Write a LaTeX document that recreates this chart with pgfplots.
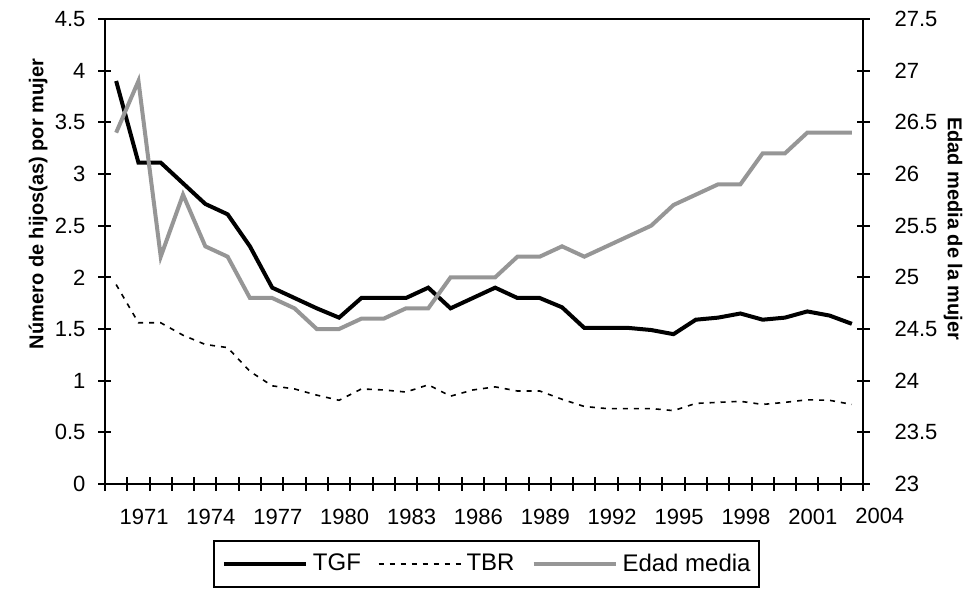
\documentclass[border=0pt]{standalone}
\usepackage{pgfplots}
\usepackage{pgfplotstable}
\pgfplotsset{compat=1.18}
\usepackage{fontspec}
\setmainfont{Liberation Sans}

\pgfplotstableread{
year tgf tbr edad
1970 3.90 1.93 26.40
1971 3.11 1.56 26.90
1972 3.11 1.56 25.20
1973 2.91 1.44 25.80
1974 2.71 1.35 25.30
1975 2.61 1.32 25.20
1976 2.30 1.09 24.80
1977 1.90 0.95 24.80
1978 1.80 0.92 24.70
1979 1.70 0.86 24.50
1980 1.61 0.81 24.50
1981 1.80 0.92 24.60
1982 1.80 0.91 24.60
1983 1.80 0.89 24.70
1984 1.90 0.96 24.70
1985 1.70 0.85 25.00
1986 1.80 0.91 25.00
1987 1.90 0.94 25.00
1988 1.80 0.90 25.20
1989 1.80 0.90 25.20
1990 1.71 0.82 25.30
1991 1.51 0.75 25.20
1992 1.51 0.73 25.30
1993 1.51 0.73 25.40
1994 1.49 0.73 25.50
1995 1.45 0.71 25.70
1996 1.59 0.78 25.80
1997 1.61 0.79 25.90
1998 1.65 0.80 25.90
1999 1.59 0.77 26.20
2000 1.61 0.79 26.20
2001 1.67 0.815 26.40
2002 1.63 0.81 26.40
2003 1.55 0.77 26.40
}\datatable

\definecolor{edadgray}{RGB}{150,150,150}

\pgfplotsset{
  common/.style={
    scale only axis, width=379pt, height=232.5pt,
    xmin=1969.5, xmax=2003.5,
    axis line style={line width=1pt},
    tick align=center,
    major tick length=6.5pt, minor tick length=6.5pt,
    tick style={line width=1pt, black},
    /pgf/number format/assume math mode=true,
    /pgf/number format/1000 sep={},
    tick label style={font=\fontsize{11}{13}\selectfont},
    clip=false,
  },
}
\tikzset{yearlabel/.style={font=\fontsize{11}{13}\selectfont, anchor=north, xshift=2.8pt, yshift=-8.5pt}}

\begin{document}
\begin{tikzpicture}
\useasboundingbox (-52.5pt,-52pt) rectangle (433.5pt,242pt);
\begin{axis}[common,
  ymin=0, ymax=4.5,
  ytick={0,0.5,...,4.5},
  ytick pos=left,
  xtick={1971,1974,...,2001},
  xtick pos=bottom,
  minor xtick={1969.5,1970.5,...,2003.5},
  major x tick style={draw=none},
  xticklabel style={xshift=2.8pt, yshift=-6pt},
  yticklabel style={xshift=-3pt},
  ylabel={\bfseries Número de hijos(as) por mujer},
  ylabel style={at={(axis description cs:-0.0884,0.602)}, anchor=center, font=\fontsize{10}{12}\selectfont},
]
\addplot[black, line width=2pt] table[x=year, y=tgf] {\datatable};
\addplot[black, line width=0.8pt, dash pattern=on 2.5pt off 3pt] table[x=year, y=tbr] {\datatable};
\node[yearlabel] at (axis cs:2004,0) {2004};
\end{axis}
\begin{axis}[common,
  ymin=23, ymax=27.5,
  ytick={23,23.5,...,27.5},
  axis x line=none,
  axis y line*=right,
  yticklabel style={xshift=9pt},
  ylabel={\bfseries Edad media de la mujer},
  ylabel style={at={(axis description cs:1.1187,0.549)}, anchor=center, rotate=180, font=\fontsize{10}{12}\selectfont},
  legend columns=3,
  legend style={at={(0.503,-0.172)}, anchor=center, draw=black, line width=1pt,
    font=\fontsize{12}{14}\selectfont,
    inner xsep=4pt, inner ysep=6.5pt,
    nodes={inner sep=0pt},
    /tikz/every odd column/.append style={column sep=2.5pt},
    /tikz/every even column/.append style={column sep=8.5pt}},
  legend image code/.code={\draw[#1] (0pt,0pt) -- (41pt,0pt);},
]
\addlegendimage{black, line width=2pt}
\addlegendentry{TGF}
\addlegendimage{black, line width=0.8pt, dash pattern=on 2.5pt off 3pt}
\addlegendentry{TBR}
\addplot[edadgray, line width=2pt] table[x=year, y=edad] {\datatable};
\addlegendentry{Edad media}
\end{axis}
\end{tikzpicture}
\end{document}
